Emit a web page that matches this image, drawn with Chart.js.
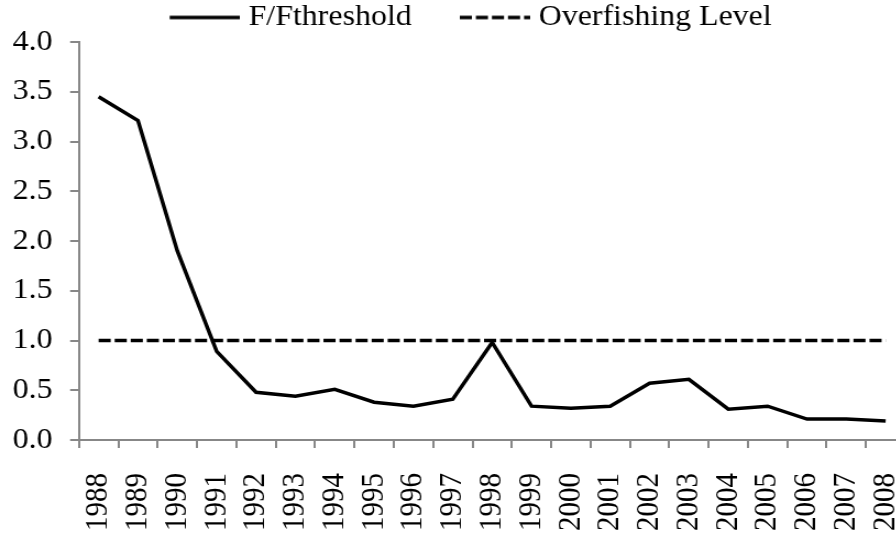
<!DOCTYPE html>
<html>
<head>
<meta charset="utf-8">
<script src="https://cdn.jsdelivr.net/npm/chart.js@4/dist/chart.umd.min.js"></script>
<style>
  html, body { margin: 0; padding: 0; background: #ffffff; overflow: hidden; width: 896px; height: 536px; }
  /* the source picture is a little stretched sideways, so stretch the canvas the same way */
  #wrap { position: relative; width: 865px; height: 536px; transform: scaleX(1.1); transform-origin: 0 0; }
</style>
</head>
<body>
<div id="wrap"><canvas id="fChart"></canvas></div>
<script>
const years = ['1988', '1989', '1990', '1991', '1992', '1993', '1994', '1995', '1996', '1997',
    '1998', '1999', '2000', '2001', '2002', '2003', '2004', '2005', '2006', '2007', '2008'];
const fRatio = [3.45, 3.21, 1.90, 0.89, 0.48, 0.44, 0.51, 0.38, 0.34, 0.41,
    0.98, 0.34, 0.32, 0.34, 0.57, 0.61, 0.31, 0.34, 0.21, 0.21, 0.19];
const overfishing = years.map(() => 1.0);

const FONT = { family: "'Liberation Serif', 'Times New Roman', serif", size: 29 };
const AXIS_GREY = '#878787';
const DASH = [11, 3.6];

// legend swatch: line image drawn at the right end of the legend box, close to the text
const SWATCH_BOX = 52.5;
const SWATCH_LEN = 64;
function makeSwatch(dash) {
    const c = document.createElement('canvas');
    c.width = SWATCH_BOX + 14;
    c.height = 8;
    const g = c.getContext('2d');
    g.strokeStyle = '#000000';
    g.lineWidth = 3.5;
    g.setLineDash(dash);
    g.beginPath();
    g.moveTo(c.width - SWATCH_LEN, 4);
    g.lineTo(c.width, 4);
    g.stroke();
    return c;
}

new Chart(document.getElementById('fChart'), {
    type: 'line',
    data: {
        labels: years,
        datasets: [
            {
                label: 'F/Fthreshold',
                data: fRatio,
                borderColor: '#000000',
                borderWidth: 3.5,
                pointRadius: 0,
                tension: 0,
                fill: false
            },
            {
                label: 'Overfishing Level',
                data: overfishing,
                borderColor: '#000000',
                borderWidth: 3.5,
                borderDash: DASH,
                pointRadius: 0,
                fill: false
            }
        ]
    },
    options: {
        responsive: true,
        maintainAspectRatio: false,
        animation: false,
        layout: { padding: { top: -45.5, left: -4.5, right: 0, bottom: -20 } },
        plugins: {
            legend: {
                display: true,
                position: 'top',
                labels: {
                    color: '#000000',
                    font: FONT,
                    usePointStyle: true,
                    pointStyleWidth: SWATCH_BOX,
                    boxHeight: 3,
                    padding: 48.5,
                    generateLabels: (chart) => Chart.defaults.plugins.legend.labels.generateLabels(chart)
                        .map(item => ({
                            ...item,
                            pointStyle: makeSwatch(chart.data.datasets[item.datasetIndex].borderDash || [])
                        }))
                }
            },
            tooltip: { enabled: false }
        },
        scales: {
            x: {
                offset: true,
                grid: {
                    offset: true,
                    drawOnChartArea: false,
                    drawTicks: true,
                    tickLength: 8,
                    color: AXIS_GREY,
                    lineWidth: 2
                },
                border: { display: true, color: AXIS_GREY, width: 2 },
                ticks: {
                    color: '#000000',
                    font: FONT,
                    minRotation: 90,
                    maxRotation: 90,
                    autoSkip: false,
                    padding: 25
                }
            },
            y: {
                min: 0,
                max: 4,
                grid: {
                    drawOnChartArea: false,
                    drawTicks: true,
                    tickLength: 8,
                    color: AXIS_GREY,
                    lineWidth: 2
                },
                border: { display: true, color: AXIS_GREY, width: 2 },
                ticks: {
                    stepSize: 0.5,
                    color: '#000000',
                    font: FONT,
                    padding: 16,
                    callback: (v) => Number(v).toFixed(1)
                }
            }
        }
    }
});
</script>
</body>
</html>
